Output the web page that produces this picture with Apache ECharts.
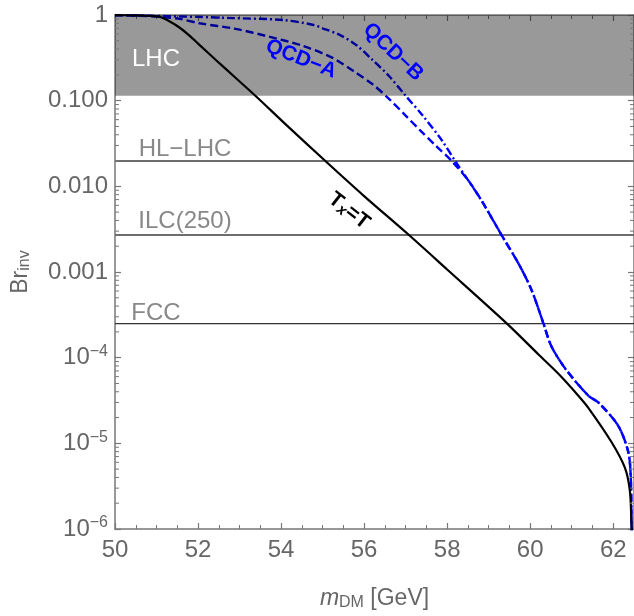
<!DOCTYPE html>
<html>
<head>
<meta charset="utf-8">
<script src="https://cdn.jsdelivr.net/npm/echarts@6/dist/echarts.min.js"></script>
<style>
  html, body { margin: 0; padding: 0; background: #fff; }
  #chart { width: 634px; height: 616px; }
</style>
</head>
<body>
<div id="chart"></div>
<script>
// T_x = T (black solid)
const blackX = [50, 50.5, 50.84, 51.08, 51.32, 51.56, 51.8, 52.04, 52.52, 53.4, 54.04, 55.08, 56.0, 57.08, 58.0, 59.44, 60.2, 60.72, 61.16, 61.4, 61.95, 62.28, 62.4, 62.44, 62.47]
const blackY = [0.995, 0.99, 0.98, 0.95, 0.84, 0.71, 0.57, 0.445, 0.272, 0.112, 0.057, 0.0195, 0.0077, 0.0027, 0.00107, 2.5e-4, 1.09e-4, 6.2e-5, 3.6e-5, 2.6e-5, 1.05e-5, 5.2e-6, 2.8e-6, 1.15e-6, 5e-7]

// QCD-A (dashed) before merging
const qcdAX = [50, 51.0, 51.56, 52.04, 52.9, 53.7, 54.5, 55.24, 55.8, 56.2, 56.6, 57.0, 57.35, 57.72, 58.12]
const qcdAY = [0.995, 0.96, 0.90, 0.80, 0.69, 0.56, 0.44, 0.316, 0.212, 0.156, 0.105, 0.067, 0.045, 0.030, 0.0195]

// QCD-B (dot-dashed) before merging
const qcdBX = [50, 51.24, 52.0, 52.84, 54.04, 54.76, 55.0, 55.4, 55.8, 56.2, 56.6, 57.0, 57.4, 57.88, 58.2]
const qcdBY = [0.998, 0.97, 0.95, 0.92, 0.875, 0.77, 0.70, 0.59, 0.45, 0.30, 0.194, 0.114, 0.068, 0.034, 0.0195]

// common tail of both QCD curves
const tailX = [58.52, 58.83, 59.31, 59.72, 60.03, 60.32, 60.51, 60.85, 61.4, 61.64, 62.12, 62.36, 62.42, 62.44, 62.46]
const tailY = [0.0115, 0.0068, 0.0027, 0.00125, 6.2e-4, 2.5e-4, 1.36e-4, 7.4e-5, 3.6e-5, 3.0e-5, 1.6e-5, 8e-6, 4.3e-6, 1.2e-6, 5e-7]

// experimental bounds
const lhcBound = 0.114
const hlLhcBound = 0.0197
const ilcBound = 0.0027
const fccBound = 2.5e-4

const yTickLabels = ['1', '0.100', '0.010', '0.001', '10{sup|−4}', '10{sup|−5}', '10{sup|−6}']
const mantissas = [2, 3, 4, 5, 6, 7, 8, 9]
const decades = [-6, -5, -4, -3, -2, -1]

const yMinorTicks = []
decades.forEach(d => mantissas.forEach(m => yMinorTicks.push(m * Math.pow(10, d))))

const zip = (xs, ys) => xs.map((x, i) => [x, ys[i]])

const font = 'Liberation Sans, Arial, sans-serif'
const axisColor = '#777'
const labelColor = '#666'

const chart = echarts.init(document.getElementById('chart'))

const baseX = {
  type: 'value',
  min: 50,
  max: 62.5,
  interval: 2,
  splitLine: { show: false },
  axisLine: { lineStyle: { color: axisColor, width: 1.5 } },
  axisTick: { inside: true, length: 6, lineStyle: { color: axisColor, width: 1.2 } },
  minorTick: { show: true, splitNumber: 4, length: 4, lineStyle: { color: axisColor, width: 1 } }
}

const baseY = {
  type: 'log',
  logBase: 10,
  min: 1e-6,
  max: 1,
  splitNumber: 6,
  splitLine: { show: false },
  axisLine: { lineStyle: { color: axisColor, width: 1.5 } },
  axisTick: { inside: true, length: 6, lineStyle: { color: axisColor, width: 1.2 } }
}

const hLine = (v, color, width) => ({
  type: 'line',
  data: [[50, v], [62.5, v]],
  symbol: 'none',
  silent: true,
  lineStyle: { color: color, width: width },
  z: 2
})

const option = {
  animation: false,
  grid: { left: 115, top: 15, width: 521, height: 520, containLabel: false },
  xAxis: [
    Object.assign({}, baseX, {
      position: 'bottom',
      axisLabel: { color: labelColor, fontSize: 24, fontFamily: font, margin: 9 },
      name: '{it|m}{sub|DM} [GeV]',
      nameLocation: 'middle',
      nameGap: 58,
      nameTextStyle: {
        color: labelColor, fontSize: 23, fontFamily: font,
        rich: {
          it: { fontStyle: 'italic', fontSize: 23, color: labelColor, fontFamily: font },
          sub: { fontSize: 16, color: labelColor, fontFamily: font, verticalAlign: 'bottom', padding: [8, 0, 0, 0] }
        }
      }
    }),
    Object.assign({}, baseX, { position: 'top', axisLabel: { show: false } })
  ],
  yAxis: [
    Object.assign({}, baseY, {
      position: 'left',
      axisLabel: {
        color: labelColor, fontSize: 24, fontFamily: font, margin: 7,
        formatter: v => yTickLabels[-Math.round(Math.log10(v))],
        rich: {
          sup: { fontSize: 16, color: labelColor, fontFamily: font, verticalAlign: 'top', padding: [0, 0, 12, 0] }
        }
      },
      name: 'Br{sub|inv}',
      nameLocation: 'middle',
      nameGap: 82,
      nameRotate: 90,
      nameTextStyle: {
        color: labelColor, fontSize: 23, fontFamily: font,
        rich: {
          sub: { fontSize: 16, color: labelColor, fontFamily: font, verticalAlign: 'bottom', padding: [8, 0, 0, 0] }
        }
      }
    }),
    Object.assign({}, baseY, { position: 'right', axisLabel: { show: false } })
  ],
  series: [
    hLine(hlLhcBound, '#6d6d6d', 2),
    hLine(ilcBound, '#6d6d6d', 2),
    hLine(fccBound, '#333', 1.3),
    {
      name: 'QCD-A',
      type: 'line',
      data: zip(qcdAX.concat(tailX), qcdAY.concat(tailY)),
      symbol: 'none',
      smooth: 0.3,
      lineStyle: { color: '#0000ff', width: 2.4, type: [8, 4] },
      z: 3
    },
    {
      name: 'QCD-B',
      type: 'line',
      data: zip(qcdBX.concat(tailX), qcdBY.concat(tailY)),
      symbol: 'none',
      smooth: 0.3,
      lineStyle: { color: '#0000ff', width: 2.4, type: [8, 3, 2, 3] },
      z: 3
    },
    {
      name: 'Tx=T',
      type: 'line',
      data: zip(blackX, blackY),
      symbol: 'none',
      smooth: 0.3,
      lineStyle: { color: '#000', width: 2.2 },
      z: 4
    },
    {
      // LHC excluded band, drawn over the curves
      type: 'custom',
      silent: true,
      z: 5,
      data: [[50, lhcBound]],
      renderItem: (params, api) => {
        const cs = params.coordSys
        const y = api.coord([50, api.value(1)])[1]
        return {
          type: 'rect',
          shape: { x: cs.x, y: cs.y, width: cs.width, height: y - cs.y },
          style: { fill: 'rgba(0,0,0,0.4)' }
        }
      }
    },
    {
      // log minor ticks on left and right frame
      type: 'custom',
      silent: true,
      z: 6,
      data: yMinorTicks.map(v => [50, v]),
      renderItem: (params, api) => {
        const cs = params.coordSys
        const y = api.coord([50, api.value(1)])[1]
        return {
          type: 'group',
          children: [
            { type: 'line', shape: { x1: cs.x, y1: y, x2: cs.x + 4, y2: y }, style: { stroke: axisColor, lineWidth: 1 } },
            { type: 'line', shape: { x1: cs.x + cs.width, y1: y, x2: cs.x + cs.width - 4, y2: y }, style: { stroke: axisColor, lineWidth: 1 } }
          ]
        }
      }
    }
  ],
  graphic: [
    { type: 'text', x: 156, y: 59, z: 100, style: { text: 'LHC', fill: '#fff', font: '24px ' + font, align: 'center', verticalAlign: 'middle' } },
    { type: 'text', x: 185, y: 149, z: 100, style: { text: 'HL−LHC', fill: '#888', font: '24px ' + font, align: 'center', verticalAlign: 'middle' } },
    { type: 'text', x: 185, y: 221, z: 100, style: { text: 'ILC(250)', fill: '#888', font: '24px ' + font, align: 'center', verticalAlign: 'middle' } },
    { type: 'text', x: 156, y: 313, z: 100, style: { text: 'FCC', fill: '#888', font: '24px ' + font, align: 'center', verticalAlign: 'middle' } },
    { type: 'text', x: 301, y: 59, z: 100, rotation: -21.5 * Math.PI / 180, style: { text: 'QCD−A', fill: '#0000ff', font: 'bold 21px ' + font, align: 'center', verticalAlign: 'middle' } },
    { type: 'text', x: 393, y: 52, z: 100, rotation: -43.5 * Math.PI / 180, style: { text: 'QCD−B', fill: '#0000ff', font: 'bold 21px ' + font, align: 'center', verticalAlign: 'middle' } },
    {
      type: 'text', x: 349, y: 211, z: 100, rotation: -38 * Math.PI / 180,
      style: {
        text: '{b|T}{s|x}{b|=T}', align: 'center', verticalAlign: 'middle',
        rich: {
          b: { font: 'bold 21px ' + font, fill: '#000' },
          s: { font: 'bold italic 15px ' + font, fill: '#000', verticalAlign: 'bottom', padding: [8, 0, 0, 0] }
        }
      }
    }
  ]
}

chart.setOption(option)
</script>
</body>
</html>
